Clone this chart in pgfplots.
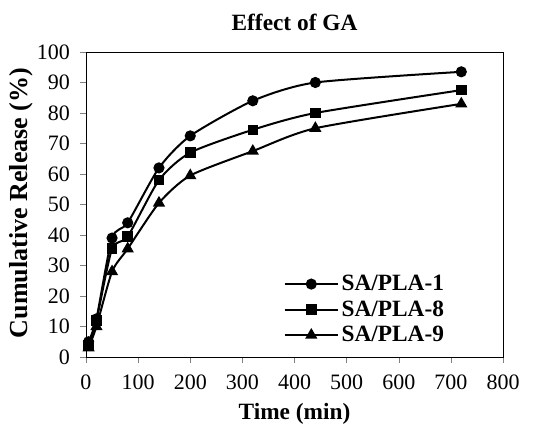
\documentclass[border=0pt]{standalone}
\usepackage{fontspec}
\setmainfont{Liberation Serif}
\usepackage{pgfplots}
\pgfplotsset{compat=1.18}
\usetikzlibrary{calc}

\begin{document}
\begin{tikzpicture}
\begin{axis}[
  name=ax,
  scale only axis,
  width=312.75pt, height=228.75pt,
  xmin=0, xmax=800, ymin=0, ymax=100,
  xtick={0,100,...,800}, ytick={0,10,...,100},
  tick align=outside, xtick pos=bottom, ytick pos=left,
  major tick length=4.5pt,
  /pgf/number format/assume math mode=true,
  ticklabel style={font=\fontsize{16.5}{19}\selectfont},
  xticklabel style={yshift=-5pt},
  yticklabel style={xshift=-4pt},
  axis line style={black, line width=0.6pt},
  title={\textbf{Effect of GA}},
  title style={font=\fontsize{17.5}{20}\selectfont, at={(axis description cs:0.5,1.07)}, anchor=center},
  xlabel={\textbf{Time (min)}},
  xlabel style={font=\fontsize{17.5}{20}\selectfont, at={(axis description cs:0.5,-0.185)}, anchor=center},
  ylabel={\textbf{Cumulative Release (\%)}},
  ylabel style={font=\fontsize{19.5}{22}\selectfont, at={(axis description cs:-0.155,0.505)}, anchor=center},
  legend style={draw=none, fill=none, at={(axis description cs:0.875,0.025)}, anchor=south east,
    font=\fontsize{17.5}{20}\bfseries\selectfont, row sep=2pt},
  legend cell align=left,
  legend image code/.code={\draw[mark repeat=2, mark phase=2, sharp plot]
    plot coordinates {(0cm,0cm) (0.7cm,0cm) (1.4cm,0cm)};},
]
\addplot[black, line width=1.5pt, smooth, tension=0.4, mark=*, mark size=3.4pt, mark options={fill=black, solid}] coordinates {
 (5,5) (20,12.5) (50,39) (80,44) (140,62) (200,72.5) (320,84) (440,90) (720,93.5)};
\addlegendentry{SA/PLA-1}
\addplot[black, line width=1.5pt, smooth, tension=0.4, mark=square*, mark size=3.2pt, mark options={fill=black, solid}] coordinates {
 (5,4) (20,12) (50,35.5) (80,39.5) (140,58) (200,67) (320,74.5) (440,80) (720,87.5)};
\addlegendentry{SA/PLA-8}
\addplot[black, line width=1.5pt, smooth, tension=0.4, mark=triangle*, mark size=3.8pt, mark options={fill=black, solid}] coordinates {
 (5,3) (20,10) (50,28) (80,35.5) (140,50.5) (200,59.5) (320,67.5) (440,75) (720,83)};
\addlegendentry{SA/PLA-9}
\end{axis}
\pgfresetboundingbox
\path ($(ax.south west)+(-64.5pt,-54.75pt)$) rectangle ($(ax.north east)+(24.75pt,39pt)$);
\end{tikzpicture}
\end{document}
